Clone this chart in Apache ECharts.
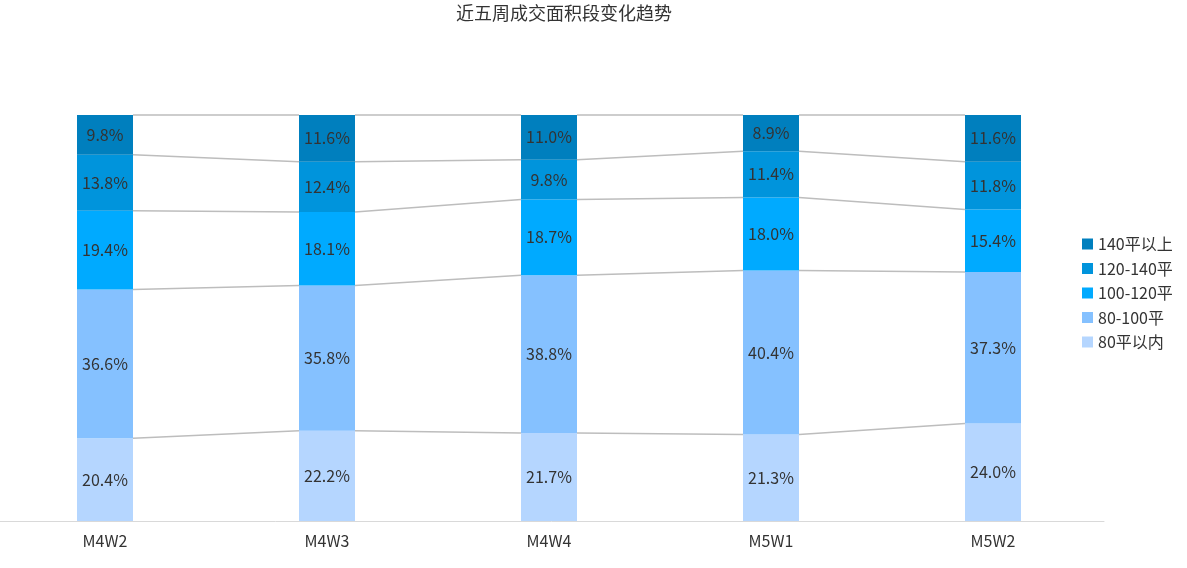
<!DOCTYPE html>
<html><head><meta charset="utf-8">
<script src="https://cdn.jsdelivr.net/npm/echarts@6/dist/echarts.min.js"></script>
<style>html,body{margin:0;padding:0;background:#fff}#c{width:1187px;height:568px}</style>
</head><body><div id="c"></div>
<script>
const categories = ['M4W2','M4W3','M4W4','M5W1','M5W2'];
const seriesNames = ['80平以内','80-100平','100-120平','120-140平','140平以上'];
const s80 = [20.4, 22.2, 21.7, 21.3, 24.0];
const s80_100 = [36.6, 35.8, 38.8, 40.4, 37.3];
const s100_120 = [19.4, 18.1, 18.7, 18.0, 15.4];
const s120_140 = [13.8, 12.4, 9.8, 11.4, 11.8];
const s140 = [9.8, 11.6, 11.0, 8.9, 11.6];
const colors = ['#b5d6ff','#85c1ff','#00aaff','#0094dc','#007fbe'];
const values = [s80, s80_100, s100_120, s120_140, s140];
const BAR_W = 56;
const font = '"Microsoft YaHei","Noto Sans CJK SC",sans-serif';

const cum = categories.map((c, i) => {
  let acc = 0; return values.map(v => (acc += v[i]));
});

const series = values.map((v, k) => ({
  name: seriesNames[k], type: 'bar', stack: 'all', barWidth: BAR_W,
  itemStyle: { color: colors[k] },
  label: { show: true, position: 'inside', color: '#333', fontSize: 16, fontFamily: font,
    formatter: p => p.value.toFixed(1) + '%' },
  data: v, z: 2
}));

const connData = [];
for (let i = 0; i < categories.length - 1; i++) {
  for (let k = 0; k < values.length; k++) {
    connData.push([i, Math.min(cum[i][k], 100), Math.min(cum[i+1][k], 100)]);
  }
}
series.push({
  type: 'custom', name: 'conn', silent: true, z: 1,
  data: connData,
  encode: { x: 0, y: 1 },
  renderItem: (params, api) => {
    const i = api.value(0);
    const a = api.coord([i, api.value(1)]);
    const b = api.coord([i + 1, api.value(2)]);
    return { type: 'line', shape: { x1: a[0] + BAR_W/2, y1: a[1], x2: b[0] - BAR_W/2, y2: b[1] },
      style: { stroke: '#bdbdbd', lineWidth: 1.5 } };
  }
});

const chart = echarts.init(document.getElementById('c'), null, { renderer: 'canvas' });
chart.setOption({
  animation: false,
  title: { text: '近五周成交面积段变化趋势', left: 559, textAlign: 'center', top: -1,
    textStyle: { fontSize: 18, fontWeight: 'normal', color: '#333', fontFamily: font } },
  legend: { orient: 'vertical', left: 1077, top: 231, itemWidth: 11, itemHeight: 11, itemGap: 8.5,
    icon: 'rect', data: seriesNames.slice().reverse(),
    textStyle: { fontSize: 16, color: '#333', fontFamily: font } },
  grid: { left: -6, right: 83, top: 115, bottom: 47, containLabel: false, outerBoundsMode: 'none' },
  xAxis: { type: 'category', data: categories,
    axisLine: { lineStyle: { color: '#d9d9d9' } }, axisTick: { show: false },
    axisLabel: { fontSize: 16, color: '#333', fontFamily: font, margin: 12 } },
  yAxis: { type: 'value', min: 0, max: 100, show: false, splitLine: { show: false } },
  series
});
</script></body></html>
